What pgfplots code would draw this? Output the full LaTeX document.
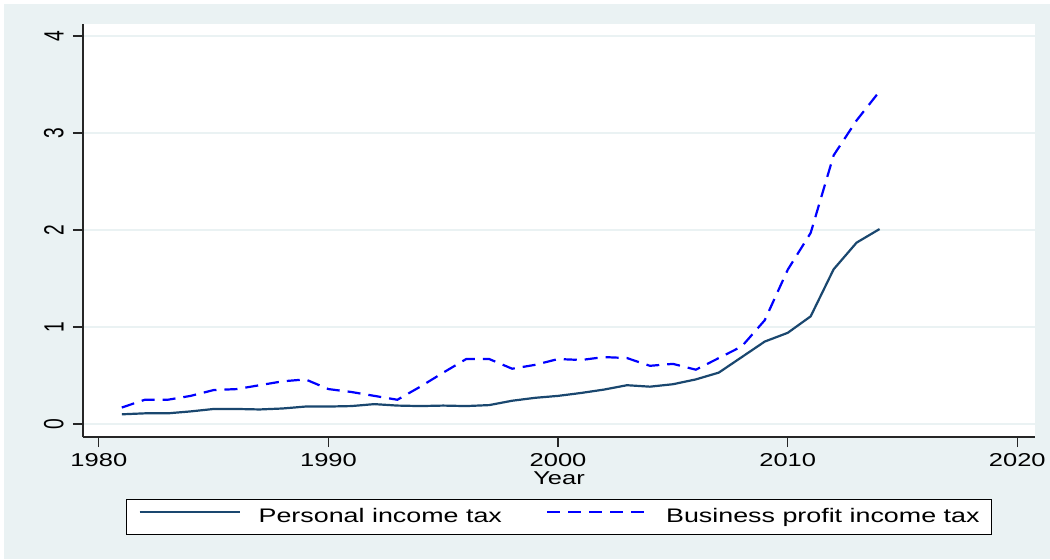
\documentclass[border=0pt]{standalone}
\usepackage{fontspec}
\setmainfont{Liberation Sans}[FakeStretch=1.37]
\newfontfamily\plainsans{Liberation Sans}
\usepackage{graphicx}
\usepackage{pgfplots}
\pgfplotsset{compat=1.18}
\definecolor{bgc}{RGB}{234,242,243}
\definecolor{gridc}{RGB}{234,242,243}
\definecolor{navy}{RGB}{26,71,111}
\definecolor{sblue}{RGB}{0,0,255}

\pgfplotstableread{
year val
1981 0.10
1982 0.11
1983 0.11
1984 0.13
1985 0.155
1986 0.155
1987 0.15
1988 0.16
1989 0.18
1990 0.18
1991 0.185
1992 0.205
1993 0.19
1994 0.185
1995 0.19
1996 0.185
1997 0.195
1998 0.24
1999 0.27
2000 0.29
2001 0.32
2002 0.355
2003 0.40
2004 0.385
2005 0.41
2006 0.46
2007 0.53
2008 0.69
2009 0.85
2010 0.94
2011 1.11
2012 1.595
2013 1.87
2014 2.01
}\personal

\pgfplotstableread{
year val
1981 0.17
1982 0.25
1983 0.25
1984 0.29
1985 0.35
1986 0.36
1987 0.40
1988 0.44
1989 0.46
1990 0.36
1991 0.33
1992 0.29
1993 0.25
1994 0.385
1995 0.53
1996 0.67
1997 0.67
1998 0.57
1999 0.61
2000 0.67
2001 0.66
2002 0.69
2003 0.68
2004 0.60
2005 0.62
2006 0.56
2007 0.68
2008 0.80
2009 1.07
2010 1.59
2011 1.97
2012 2.77
2013 3.13
2014 3.43
}\business

\begin{document}
\begin{tikzpicture}[x=1pt,y=1pt]
\fill[white] (0,0) rectangle (525,279.5);
\fill[bgc] (2,0) rectangle (525,277.5);
\begin{axis}[
  at={(41.5pt,61pt)}, anchor=south west,
  scale only axis, width=476pt, height=206.5pt,
  xmin=1979.31, xmax=2020.77, ymin=-0.134, ymax=4.124,
  axis x line*=bottom, axis y line*=left,
  axis line style={black!85, line width=0.6pt},
  axis background/.style={fill=white},
  xtick={1980,1990,2000,2010,2020}, ytick={0,1,2,3,4},
  tick align=outside, major tick length=5pt,
  tick style={black!85, line width=0.6pt},
  ymajorgrids, major grid style={gridc, line width=1pt},
  /pgf/number format/1000 sep={},
  /pgf/number format/assume math mode=true,
  xticklabel style={font=\fontsize{9.3}{11}\selectfont, inner sep=0pt, anchor=base, yshift=-9.5pt},
  yticklabel={\scalebox{1}[1.45]{\plainsans\fontsize{9.6}{11}\selectfont\pgfmathprintnumber{\tick}}},
  yticklabel style={xshift=-4.5pt, rotate=90, anchor=south, inner sep=0pt},
  xlabel={Year},
  xlabel style={at={(axis description cs:0.5,-0.116)}, anchor=base, inner sep=0pt, font=\fontsize{9.3}{11}\selectfont},
  legend columns=2,
  legend style={at={(axis description cs:0.5,-0.194)}, anchor=center, draw=black, line width=0.8pt, fill=white,
    font=\fontsize{9.8}{11}\selectfont, inner xsep=6pt, inner ysep=4.5pt,
    nodes={inner sep=0pt, text height=7pt, text depth=1.5pt},
    /tikz/every even column/.append style={column sep=22pt},
    /tikz/every odd column/.append style={column sep=9pt}},
  legend cell align=left,
  legend image code/.code={\path (0pt,0pt); \draw[#1] (0pt,2.75pt) -- (50pt,2.75pt);},
]
\addplot[navy, line width=1.1pt] table[x=year, y=val] {\personal};
\addlegendentry{Personal income tax}
\addplot[sblue, line width=1.1pt, dash pattern=on 6.5pt off 4pt] table[x=year, y=val] {\business};
\addlegendentry{Business profit income tax}
\end{axis}
\pgfresetboundingbox
\useasboundingbox (0,0) rectangle (525,279.5);
\end{tikzpicture}
\end{document}
